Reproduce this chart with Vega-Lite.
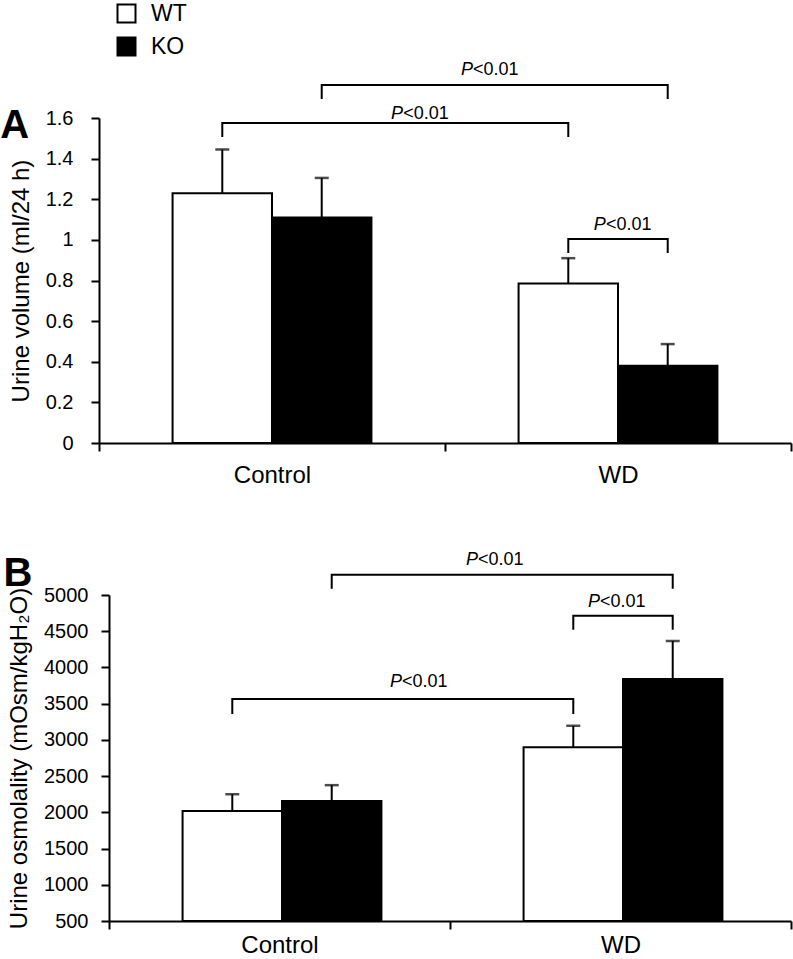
{
  "$schema": "https://vega.github.io/schema/vega-lite/v6.json",
  "padding": {"left": 0, "top": 2, "right": 0, "bottom": 0},
  "config": {
    "font": "Liberation Sans",
    "view": {"stroke": null},
    "axis": {"domainColor": "#000", "domainWidth": 2, "tickColor": "#000", "tickWidth": 2, "tickSize": 8, "labelColor": "#000", "titleColor": "#000", "labelFontSize": 20, "titleFontSize": 24, "titleFontWeight": "normal", "grid": false, "labelOverlap": false},
    "title": {"fontSize": 40, "fontWeight": "bold", "anchor": "start", "frame": "bounds", "color": "#000", "offset": 0}
  },
  "datasets": {
    "bars": [
      {"panel": "A", "condition": "Control", "genotype": "WT", "mean": 1.23, "upper": 1.445, "base": 0},
      {"panel": "A", "condition": "Control", "genotype": "KO", "mean": 1.11, "upper": 1.305, "base": 0},
      {"panel": "A", "condition": "WD", "genotype": "WT", "mean": 0.785, "upper": 0.91, "base": 0},
      {"panel": "A", "condition": "WD", "genotype": "KO", "mean": 0.38, "upper": 0.487, "base": 0},
      {"panel": "B", "condition": "Control", "genotype": "WT", "mean": 2020, "upper": 2250, "base": 500},
      {"panel": "B", "condition": "Control", "genotype": "KO", "mean": 2155, "upper": 2375, "base": 500},
      {"panel": "B", "condition": "WD", "genotype": "WT", "mean": 2900, "upper": 3195, "base": 500},
      {"panel": "B", "condition": "WD", "genotype": "KO", "mean": 3840, "upper": 4365, "base": 500}
    ],
    "brackets": [
      {"panel": "A", "id": "a1", "seq": 1, "condition": "Control", "genotype": "KO", "y": 1.694},
      {"panel": "A", "id": "a1", "seq": 2, "condition": "Control", "genotype": "KO", "y": 1.763},
      {"panel": "A", "id": "a1", "seq": 3, "condition": "WD", "genotype": "KO", "y": 1.763},
      {"panel": "A", "id": "a1", "seq": 4, "condition": "WD", "genotype": "KO", "y": 1.694},
      {"panel": "A", "id": "a2", "seq": 1, "condition": "Control", "genotype": "WT", "y": 1.507},
      {"panel": "A", "id": "a2", "seq": 2, "condition": "Control", "genotype": "WT", "y": 1.576},
      {"panel": "A", "id": "a2", "seq": 3, "condition": "WD", "genotype": "WT", "y": 1.576},
      {"panel": "A", "id": "a2", "seq": 4, "condition": "WD", "genotype": "WT", "y": 1.507},
      {"panel": "A", "id": "a3", "seq": 1, "condition": "WD", "genotype": "WT", "y": 0.936},
      {"panel": "A", "id": "a3", "seq": 2, "condition": "WD", "genotype": "WT", "y": 1.004},
      {"panel": "A", "id": "a3", "seq": 3, "condition": "WD", "genotype": "KO", "y": 1.004},
      {"panel": "A", "id": "a3", "seq": 4, "condition": "WD", "genotype": "KO", "y": 0.936},
      {"panel": "B", "id": "b1", "seq": 1, "condition": "Control", "genotype": "KO", "y": 5085},
      {"panel": "B", "id": "b1", "seq": 2, "condition": "Control", "genotype": "KO", "y": 5279},
      {"panel": "B", "id": "b1", "seq": 3, "condition": "WD", "genotype": "KO", "y": 5279},
      {"panel": "B", "id": "b1", "seq": 4, "condition": "WD", "genotype": "KO", "y": 5085},
      {"panel": "B", "id": "b2", "seq": 1, "condition": "WD", "genotype": "WT", "y": 4519},
      {"panel": "B", "id": "b2", "seq": 2, "condition": "WD", "genotype": "WT", "y": 4712},
      {"panel": "B", "id": "b2", "seq": 3, "condition": "WD", "genotype": "KO", "y": 4712},
      {"panel": "B", "id": "b2", "seq": 4, "condition": "WD", "genotype": "KO", "y": 4519},
      {"panel": "B", "id": "b3", "seq": 1, "condition": "Control", "genotype": "WT", "y": 3359},
      {"panel": "B", "id": "b3", "seq": 2, "condition": "Control", "genotype": "WT", "y": 3566},
      {"panel": "B", "id": "b3", "seq": 3, "condition": "WD", "genotype": "WT", "y": 3566},
      {"panel": "B", "id": "b3", "seq": 4, "condition": "WD", "genotype": "WT", "y": 3359}
    ],
    "labels": [
      {"panel": "A", "pos": 1.081, "y": 1.836, "p": "P", "rest": "<0.01"},
      {"panel": "A", "pos": 0.879, "y": 1.622, "p": "P", "rest": "<0.01"},
      {"panel": "A", "pos": 1.465, "y": 1.075, "p": "P", "rest": "<0.01"},
      {"panel": "B", "pos": 1.082, "y": 5480, "p": "P", "rest": "<0.01"},
      {"panel": "B", "pos": 1.440, "y": 4900, "p": "P", "rest": "<0.01"},
      {"panel": "B", "pos": 0.859, "y": 3800, "p": "P", "rest": "<0.01"}
    ]
  },
  "spacing": 64,
  "resolve": {"scale": {"fill": "shared"}, "legend": {"fill": "shared"}},
  "vconcat": [
    {
      "title": {"text": "A", "dy": 89, "dx": -9},
      "width": 682,
      "height": 325,
      "resolve": {"scale": {"x": "independent"}},
      "layer": [
        {
          "layer": [
            {
              "data": {"name": "bars"},
              "transform": [{"filter": "datum.panel === 'A'"}],
              "mark": {"type": "bar", "stroke": "#000", "strokeWidth": 2},
              "encoding": {
                "x": {"field": "condition", "type": "nominal", "sort": ["Control", "WD"], "scale": {"range": [-10, 682], "paddingInner": 0, "paddingOuter": 0},
                      "axis": {"title": null, "labelAngle": 0, "labelFontSize": 24, "tickBand": "extent", "labelPadding": 12}},
                "xOffset": {"field": "genotype", "type": "nominal", "sort": ["WT", "KO"], "scale": {"paddingInner": 0, "paddingOuter": 0.74}},
                "y": {"field": "mean", "type": "quantitative", "title": "Urine volume (ml/24 h)", "scale": {"domain": [0, 1.6], "nice": false},
                      "axis": {"values": [0, 0.2, 0.4, 0.6, 0.8, 1, 1.2, 1.4, 1.6], "tickCount": 9, "format": ".1~f", "offset": 10, "labelPadding": 18, "titlePadding": 12, "labelOverlap": false}},
                "y2": {"field": "base"},
                "fill": {"field": "genotype", "type": "nominal", "sort": ["WT", "KO"], "scale": {"domain": ["WT", "KO"], "range": ["#ffffff", "#000000"]},
                         "legend": {"title": null, "orient": "none", "legendX": 6, "legendY": -116, "symbolType": "square", "symbolSize": 324, "symbolStrokeColor": "#000", "symbolStrokeWidth": 2, "labelFontSize": 23, "labelColor": "#000", "rowPadding": 6, "labelOffset": 13, "padding": 0}}
              }
            },
            {
              "data": {"name": "bars"},
              "transform": [{"filter": "datum.panel === 'A'"}],
              "mark": {"type": "rule", "color": "#000", "strokeWidth": 2},
              "encoding": {
                "x": {"field": "condition", "type": "nominal", "sort": ["Control", "WD"]},
                "xOffset": {"field": "genotype", "type": "nominal", "sort": ["WT", "KO"]},
                "y": {"field": "mean", "type": "quantitative", "title": "Urine volume (ml/24 h)", "scale": {"domain": [0, 1.6], "nice": false}},
                "y2": {"field": "upper"}
              }
            },
            {
              "data": {"name": "bars"},
              "transform": [{"filter": "datum.panel === 'A'"}],
              "mark": {"type": "tick", "color": "#000", "thickness": 2.5, "size": 14},
              "encoding": {
                "x": {"field": "condition", "type": "nominal", "sort": ["Control", "WD"]},
                "xOffset": {"field": "genotype", "type": "nominal", "sort": ["WT", "KO"]},
                "y": {"field": "upper", "type": "quantitative", "title": "Urine volume (ml/24 h)", "scale": {"domain": [0, 1.6], "nice": false}}
              }
            },
            {
              "data": {"name": "brackets"},
              "transform": [{"filter": "datum.panel === 'A'"}],
              "mark": {"type": "line", "color": "#000", "strokeWidth": 2, "interpolate": "linear"},
              "encoding": {
                "x": {"field": "condition", "type": "nominal", "sort": ["Control", "WD"]},
                "xOffset": {"field": "genotype", "type": "nominal", "sort": ["WT", "KO"]},
                "y": {"field": "y", "type": "quantitative", "title": "Urine volume (ml/24 h)", "scale": {"domain": [0, 1.6], "nice": false}},
                "detail": {"field": "id"},
                "order": {"field": "seq", "type": "quantitative"}
              }
            }
          ]
        },
        {
          "data": {"name": "labels"},
          "transform": [{"filter": "datum.panel === 'A'"}],
          "encoding": {
            "x": {"field": "pos", "type": "quantitative", "scale": {"domain": [0, 2], "range": [-10, 682]}, "axis": null},
            "y": {"field": "y", "type": "quantitative", "title": "Urine volume (ml/24 h)", "scale": {"domain": [0, 1.6], "nice": false},
                  "axis": {"values": [0, 0.2, 0.4, 0.6, 0.8, 1, 1.2, 1.4, 1.6], "tickCount": 9, "format": ".1~f", "offset": 10, "labelPadding": 18, "titlePadding": 12, "labelOverlap": false}}
          },
          "layer": [
            {"mark": {"type": "text", "align": "right", "baseline": "middle", "fontSize": 18, "fontStyle": "italic", "color": "#000"}, "encoding": {"text": {"field": "p"}}},
            {"mark": {"type": "text", "align": "left", "baseline": "middle", "fontSize": 18, "color": "#000"}, "encoding": {"text": {"field": "rest"}}}
          ]
        }
      ]
    },
    {
      "title": {"text": "B", "dy": 47, "dx": -4},
      "width": 682,
      "height": 326,
      "resolve": {"scale": {"x": "independent"}},
      "layer": [
        {
          "layer": [
            {
              "data": {"name": "bars"},
              "transform": [{"filter": "datum.panel === 'B'"}],
              "mark": {"type": "bar", "stroke": "#000", "strokeWidth": 2},
              "encoding": {
                "x": {"field": "condition", "type": "nominal", "sort": ["Control", "WD"], "scale": {"range": [0, 682], "paddingInner": 0, "paddingOuter": 0},
                      "axis": {"title": null, "labelAngle": 0, "labelFontSize": 24, "tickBand": "extent", "labelPadding": 4}},
                "xOffset": {"field": "genotype", "type": "nominal", "sort": ["WT", "KO"], "scale": {"paddingInner": 0, "paddingOuter": 0.74}},
                "y": {"field": "mean", "type": "quantitative", "title": "Urine osmolality (mOsm/kgH₂O)", "scale": {"domain": [500, 5000], "nice": false, "zero": false},
                      "axis": {"values": [500, 1000, 1500, 2000, 2500, 3000, 3500, 4000, 4500, 5000], "tickCount": 10, "format": "d", "labelPadding": 13, "titlePadding": 12, "labelOverlap": false}},
                "y2": {"field": "base"},
                "fill": {"field": "genotype", "type": "nominal", "sort": ["WT", "KO"], "scale": {"domain": ["WT", "KO"], "range": ["#ffffff", "#000000"]}}
              }
            },
            {
              "data": {"name": "bars"},
              "transform": [{"filter": "datum.panel === 'B'"}],
              "mark": {"type": "rule", "color": "#000", "strokeWidth": 2},
              "encoding": {
                "x": {"field": "condition", "type": "nominal", "sort": ["Control", "WD"]},
                "xOffset": {"field": "genotype", "type": "nominal", "sort": ["WT", "KO"]},
                "y": {"field": "mean", "type": "quantitative", "title": "Urine osmolality (mOsm/kgH₂O)", "scale": {"domain": [500, 5000], "nice": false, "zero": false}},
                "y2": {"field": "upper"}
              }
            },
            {
              "data": {"name": "bars"},
              "transform": [{"filter": "datum.panel === 'B'"}],
              "mark": {"type": "tick", "color": "#000", "thickness": 2.5, "size": 14},
              "encoding": {
                "x": {"field": "condition", "type": "nominal", "sort": ["Control", "WD"]},
                "xOffset": {"field": "genotype", "type": "nominal", "sort": ["WT", "KO"]},
                "y": {"field": "upper", "type": "quantitative", "title": "Urine osmolality (mOsm/kgH₂O)", "scale": {"domain": [500, 5000], "nice": false, "zero": false}}
              }
            },
            {
              "data": {"name": "brackets"},
              "transform": [{"filter": "datum.panel === 'B'"}],
              "mark": {"type": "line", "color": "#000", "strokeWidth": 2, "interpolate": "linear"},
              "encoding": {
                "x": {"field": "condition", "type": "nominal", "sort": ["Control", "WD"]},
                "xOffset": {"field": "genotype", "type": "nominal", "sort": ["WT", "KO"]},
                "y": {"field": "y", "type": "quantitative", "title": "Urine osmolality (mOsm/kgH₂O)", "scale": {"domain": [500, 5000], "nice": false, "zero": false}},
                "detail": {"field": "id"},
                "order": {"field": "seq", "type": "quantitative"}
              }
            }
          ]
        },
        {
          "data": {"name": "labels"},
          "transform": [{"filter": "datum.panel === 'B'"}],
          "encoding": {
            "x": {"field": "pos", "type": "quantitative", "scale": {"domain": [0, 2], "range": [0, 682]}, "axis": null},
            "y": {"field": "y", "type": "quantitative", "title": "Urine osmolality (mOsm/kgH₂O)", "scale": {"domain": [500, 5000], "nice": false, "zero": false},
                  "axis": {"values": [500, 1000, 1500, 2000, 2500, 3000, 3500, 4000, 4500, 5000], "tickCount": 10, "format": "d", "labelPadding": 13, "titlePadding": 12, "labelOverlap": false}}
          },
          "layer": [
            {"mark": {"type": "text", "align": "right", "baseline": "middle", "fontSize": 18, "fontStyle": "italic", "color": "#000"}, "encoding": {"text": {"field": "p"}}},
            {"mark": {"type": "text", "align": "left", "baseline": "middle", "fontSize": 18, "color": "#000"}, "encoding": {"text": {"field": "rest"}}}
          ]
        }
      ]
    }
  ]
}
